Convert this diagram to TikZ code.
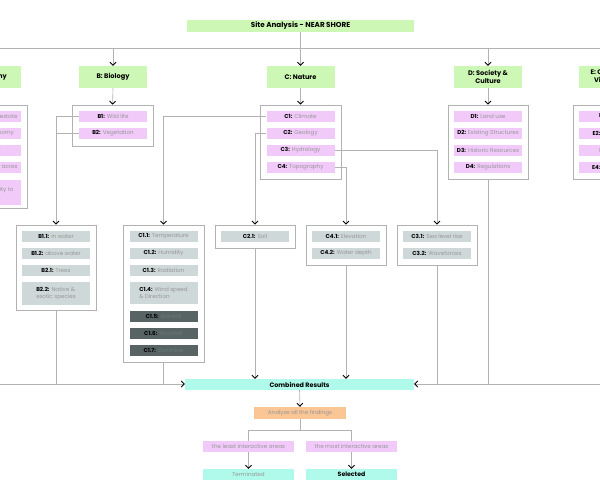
\documentclass[tikz,border=0pt]{standalone}
\usepackage{fontspec}
\setmainfont{Poppins}
\usetikzlibrary{arrows.meta}
\definecolor{hgreen}{RGB}{205,247,180}
\definecolor{ipink}{RGB}{241,202,250}
\definecolor{igray}{RGB}{207,216,216}
\definecolor{idark}{RGB}{88,100,100}
\definecolor{dtext}{RGB}{106,120,120}
\definecolor{tgray}{RGB}{150,150,150}
\definecolor{lgray}{RGB}{178,178,178}
\definecolor{icyan}{RGB}{175,250,234}
\definecolor{iorange}{RGB}{250,198,150}
\newcommand\itlab[1]{{\bfseries\color{black}#1}}
\begin{document}
\begin{tikzpicture}[x=1pt,y=-1pt,
  hdr/.style={fill=hgreen, minimum width=68pt, minimum height=22pt, inner sep=0pt, align=center, font=\fontsize{6.6}{8.2}\selectfont\bfseries},
  itm/.style={fill=ipink, minimum width=68pt, minimum height=11pt, inner sep=0pt, align=center, text=tgray, font=\fontsize{5.6}{7}\selectfont},
  gitm/.style={itm, fill=igray},
  ditm/.style={itm, fill=idark, text=dtext},
  cont/.style={draw=lgray, line width=0.6pt, inner sep=0pt},
  ln/.style={draw=lgray, line width=0.6pt},
  arr/.style={ln, -{Straight Barb[length=3pt,width=6pt,line width=0.9pt,color=black]}}
]
\useasboundingbox (0,0) rectangle (600,500);

% top
\node[fill=hgreen, minimum width=227pt, minimum height=12pt, inner sep=0pt, font=\fontsize{7.2}{8}\selectfont\bfseries] (top) at (300.5,26) {Site Analysis - NEAR SHORE};
\coordinate (busL) at (-60,48);
\coordinate (busR) at (660,48);
\draw[ln] (top.south) -- (top.south |- busL);
\draw[ln] (busL) -- (busR);

% headers
\node[hdr] (A) at (-13,77) {A: Economy};
\node[hdr] (B) at (113,77) {B: Biology};
\node[hdr] (C) at (300.5,77) {C: Nature};
\node[hdr] (D) at (488,77) {D: Society \&\\Culture};
\node[hdr] (E) at (613,77) {E: Circulation\\Viewpoints};
\foreach \h in {A,B,C,D,E} \draw[arr] (\h.north |- busL) -- (\h.north);

% level 2 containers
\node[cont, minimum width=80pt, minimum height=103pt] (Ac) at (-13,156.5) {};
\node[cont, minimum width=81pt, minimum height=41pt] (Bc) at (112.5,125.5) {};
\node[cont, minimum width=81pt, minimum height=74pt] (Cc) at (300.5,142) {};
\node[cont, minimum width=80pt, minimum height=74pt] (Dc) at (488,142) {};
\node[cont, minimum width=80pt, minimum height=74pt] (Ec) at (613,142) {};
\foreach \h in {A,B,C,D,E} \draw[arr] (\h.south) -- (\h c.north);

% level 2 items
\node[itm] (A1) at (-13,116.5) {\itlab{A1:} Cost of real estate};
\node[itm] (A2) at (-13,133.5) {\itlab{A2:} Local economy};
\node[itm] (A3) at (-13,150.5) {\itlab{A3:} Trade};
\node[itm] (A4) at (-13,167.5) {\itlab{A4:} Agricultural acres};
\node[itm, minimum height=25pt, align=left] (A5) at (-13,192.5) {\itlab{A5:} Accessibility to\\the market};

\node[itm] (B1) at (113,116.5) {\itlab{B1:} Wild life};
\node[itm] (B2) at (113,133.5) {\itlab{B2:} Vegetation};

\node[itm] (C1) at (300.5,116.5) {\itlab{C1:} Climate};
\node[itm] (C2) at (300.5,133.5) {\itlab{C2:} Geology};
\node[itm] (C3) at (300.5,150.5) {\itlab{C3:} Hydrology};
\node[itm] (C4) at (300.5,167.5) {\itlab{C4:} Topography};

\node[itm] (D1) at (488,116.5) {\itlab{D1:} Land use};
\node[itm] (D2) at (488,133.5) {\itlab{D2:} Existing Structures};
\node[itm] (D3) at (488,150.5) {\itlab{D3:} Historic Resources};
\node[itm] (D4) at (488,167.5) {\itlab{D4:} Regulations};

\node[itm] (E1) at (613,116.5) {\itlab{E1:} Skyline};
\node[itm] (E2) at (613,133.5) {\itlab{E2:} Landmarks};
\node[itm] (E3) at (613,150.5) {\itlab{E3:} Vistas};
\node[itm] (E4) at (613,167.5) {\itlab{E4:} Visual axes};

% level 3 containers
\node[cont, minimum width=80pt, minimum height=85pt] (B11c) at (56,267.5) {};
\node[cont, minimum width=81pt, minimum height=137pt] (C11c) at (163.5,293.5) {};
\node[cont, minimum width=80pt, minimum height=23pt] (C21c) at (255,236.5) {};
\node[cont, minimum width=80pt, minimum height=40pt] (C41c) at (346,245) {};
\node[cont, minimum width=80pt, minimum height=40pt] (C31c) at (437,245) {};

% level 3 items
\node[gitm] (B11) at (56,236.5) {\itlab{B1.1:} in water};
\node[gitm] (B12) at (56,253.5) {\itlab{B1.2:} above water};
\node[gitm] (B21) at (56,270.5) {\itlab{B2.1:} Trees};
\node[gitm, minimum height=23pt, align=left] (B22) at (56,293.5) {\itlab{B2.2:} Native \&\\exotic species};

\node[gitm] (C11) at (163.5,236.5) {\itlab{C1.1:} Temperature};
\node[gitm] (C12) at (163.5,253.5) {\itlab{C1.2:} Humidity};
\node[gitm] (C13) at (163.5,270.5) {\itlab{C1.3:} Radiation};
\node[gitm, minimum height=22pt, align=left] (C14) at (163.5,293) {\itlab{C1.4:} Wind speed\\\& Direction};
\node[ditm] (C15) at (163.5,316) {\itlab{C1.5:} Rainfall};
\node[ditm] (C16) at (163.5,333.5) {\itlab{C1.6:} Snowfall};
\node[ditm] (C17) at (163.5,350.5) {\itlab{C1.7:} Sunshine};

\node[gitm] (C21) at (255,236.5) {\itlab{C2.1:} Soil};
\node[gitm] (C41) at (346,236.5) {\itlab{C4.1:} Elevation};
\node[gitm] (C42) at (346,253.5) {\itlab{C4.2:} Water depth};
\node[gitm] (C31) at (437,236.5) {\itlab{C3.1:} Sea level rise};
\node[gitm] (C32) at (437,253.5) {\itlab{C3.2:} Waveforces};

% level 2 -> level 3 connectors
\draw[arr] (B1.west) -- (B1.west -| B11c.north) -- (B11c.north);
\draw[ln] (B2.west) -- (B2.west -| B11c.north);
\draw[arr] (C1.west) -- (C1.west -| C11c.north) -- (C11c.north);
\draw[arr] (C2.west) -- (C2.west -| C21c.north) -- (C21c.north);
\draw[arr] (C3.east) -- (C3.east -| C31c.north) -- (C31c.north);
\draw[arr] (C4.east) -- (C4.east -| C41c.north) -- (C41c.north);

% combined
\node[fill=icyan, minimum width=229pt, minimum height=11pt, inner sep=0pt, font=\fontsize{6.4}{7}\selectfont\bfseries] (comb) at (299.5,384.5) {Combined Results};
\coordinate (cbL) at (-60,384);
\coordinate (cbR) at (660,384);
\draw[arr] (cbL) -- (comb.west |- cbL);
\draw[arr] (cbR) -- (comb.east |- cbR);
\draw[ln] (Ac.south) -- (Ac.south |- cbL);
\draw[ln] (B11c.south) -- (B11c.south |- cbL);
\draw[ln] (C11c.south) -- (C11c.south |- cbL);
\draw[ln] (C31c.south) -- (C31c.south |- cbR);
\draw[ln] (Dc.south) -- (Dc.south |- cbR);
\draw[ln] (Ec.south) -- (Ec.south |- cbR);
\draw[arr] (C21c.south) -- (C21c.south |- comb.north);
\draw[arr] (C41c.south) -- (C41c.south |- comb.north);

% analysis
\node[fill=iorange, minimum width=92pt, minimum height=12pt, inner sep=0pt, text=tgray, font=\fontsize{5.6}{6.5}\selectfont] (anl) at (300,413) {Analyze all the findings};
\draw[arr] (comb.south) -- (anl.north);
\node[itm, minimum width=91pt] (least) at (248.5,446.5) {the least interactive areas};
\node[itm, minimum width=91pt] (most) at (351.5,446.5) {the most interactive areas};
\coordinate (split) at (300,430);
\draw[ln] (anl.south) -- (split);
\draw[ln] (least.north) -- (least.north |- split) -- (most.north |- split) -- (most.north);
\node[itm, fill=icyan, minimum width=91pt] (term) at (248.5,474.5) {Terminated};
\node[itm, fill=icyan, minimum width=91pt, text=black, font=\fontsize{6.2}{7}\selectfont\bfseries] (sel) at (351.5,474.5) {Selected};
\draw[arr] (least.south) -- (term.north);
\draw[arr] (most.south) -- (sel.north);
\end{tikzpicture}
\end{document}
